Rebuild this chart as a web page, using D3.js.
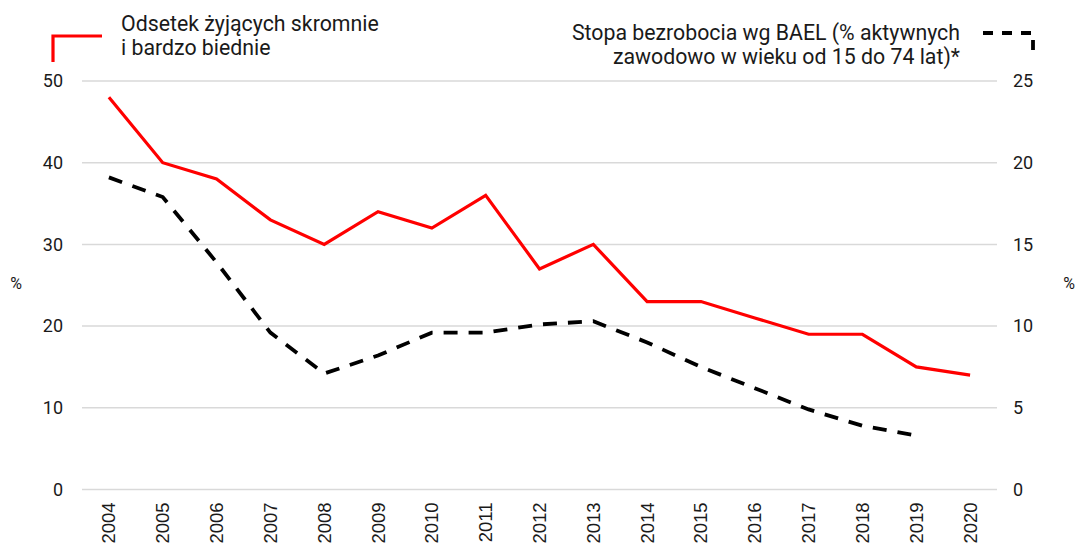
<!DOCTYPE html>
<html>
<head>
<meta charset="utf-8">
<script src="https://cdn.jsdelivr.net/npm/d3@7"></script>
<style>
  body { margin: 0; background: #fff; }
  text { font-family: Roboto, "Noto Sans", sans-serif; fill: #1a1a1a; }
</style>
</head>
<body>
<svg id="chart" width="1080" height="546"></svg>
<script>
// data
var years = ["2004","2005","2006","2007","2008","2009","2010","2011","2012",
             "2013","2014","2015","2016","2017","2018","2019","2020"];
var poorShare = [48, 40, 38, 33, 30, 34, 32, 36, 27, 30, 23, 23, 21, 19, 19, 15, 14];
var unemployment = [19.1, 17.9, 13.9, 9.6, 7.1, 8.2, 9.6, 9.6, 10.1, 10.3, 9.0, 7.5, 6.2, 4.9, 3.9, 3.3];
var leftTicks = [0, 10, 20, 30, 40, 50];
var rightTicks = [0, 5, 10, 15, 20, 25];
var legendRed = ["Odsetek żyjących skromnie", "i bardzo biednie"];
var legendBlack = ["Stopa bezrobocia wg BAEL (% aktywnych", "zawodowo w wieku od 15 do 74 lat)*"];

var svg = d3.select("#chart");
var plotLeft = 82, plotRight = 997, plotTop = 81, plotBottom = 489.5;

var x = d3.scaleBand().domain(years).range([plotLeft, plotRight]);
var yL = d3.scaleLinear().domain([0, 50]).range([plotBottom, plotTop]);
var yR = d3.scaleLinear().domain([0, 25]).range([plotBottom, plotTop]);

// gridlines
svg.append("g").selectAll("line")
    .data(leftTicks)
    .enter().append("line")
    .attr("x1", plotLeft).attr("x2", plotRight)
    .attr("y1", function (d) { return yL(d); })
    .attr("y2", function (d) { return yL(d); })
    .style("stroke", "#d9d9d9")
    .style("stroke-width", 1.5);

// left axis
var axL = svg.append("g")
    .attr("transform", "translate(" + (plotLeft - 19) + ",0)")
    .call(d3.axisLeft(yL).tickValues(leftTicks).tickSize(0).tickPadding(0));
axL.select(".domain").remove();
axL.selectAll("text").style("font-size", "18px").style("font-family", "Roboto");

// right axis
var axR = svg.append("g")
    .attr("transform", "translate(" + (plotRight + 16) + ",0)")
    .call(d3.axisRight(yR).tickValues(rightTicks).tickSize(0).tickPadding(0));
axR.select(".domain").remove();
axR.selectAll("text").style("font-size", "18px").style("font-family", "Roboto");

// x axis (rotated years)
var axX = svg.append("g")
    .attr("transform", "translate(0," + (plotBottom + 12) + ")")
    .call(d3.axisBottom(x).tickSize(0).tickPadding(0));
axX.select(".domain").remove();
axX.selectAll("text")
    .attr("transform", "rotate(-90)")
    .attr("x", 0).attr("y", 0).attr("dx", "-0.05em").attr("dy", "0.35em")
    .style("text-anchor", "end")
    .style("font-size", "18.5px")
    .style("font-family", "'Liberation Sans', Arial, sans-serif");

// "%" unit labels
svg.append("text").attr("x", 16).attr("y", 289).attr("text-anchor", "middle")
    .style("font-size", "16px").text("%");
svg.append("text").attr("x", 1069).attr("y", 289).attr("text-anchor", "middle")
    .style("font-size", "16px").text("%");

var cx = function (d, i) { return x(years[i]) + x.bandwidth() / 2; };

// red line
svg.append("path")
    .datum(poorShare)
    .attr("d", d3.line().x(cx).y(function (d) { return yL(d); }))
    .style("fill", "none")
    .style("stroke", "#ff0000")
    .style("stroke-width", 3.2)
    .style("stroke-linejoin", "miter");

// black dashed line
svg.append("path")
    .datum(unemployment)
    .attr("d", d3.line().x(cx).y(function (d) { return yR(d); }))
    .style("fill", "none")
    .style("stroke", "#000")
    .style("stroke-width", 3.8)
    .style("stroke-dasharray", "14,11");

// legends
svg.append("path")
    .attr("d", "M53,62V36H102")
    .style("fill", "none").style("stroke", "#ff0000").style("stroke-width", 3.2);
svg.append("text").attr("x", 121).attr("y", 31)
    .style("font-size", "21.3px")
    .selectAll("tspan").data(legendRed).enter().append("tspan")
    .attr("x", 121).attr("dy", function (d, i) { return i ? 24 : 0; })
    .text(function (d) { return d; });

svg.append("path")
    .attr("d", "M983,33H1033V58")
    .style("fill", "none").style("stroke", "#000").style("stroke-width", 3.8)
    .style("stroke-dasharray", "10,9");
svg.append("text").attr("x", 960).attr("y", 40)
    .attr("text-anchor", "end")
    .style("font-size", "21.3px")
    .selectAll("tspan").data(legendBlack).enter().append("tspan")
    .attr("x", 960).attr("dy", function (d, i) { return i ? 24 : 0; })
    .text(function (d) { return d; });
</script>
</body>
</html>
